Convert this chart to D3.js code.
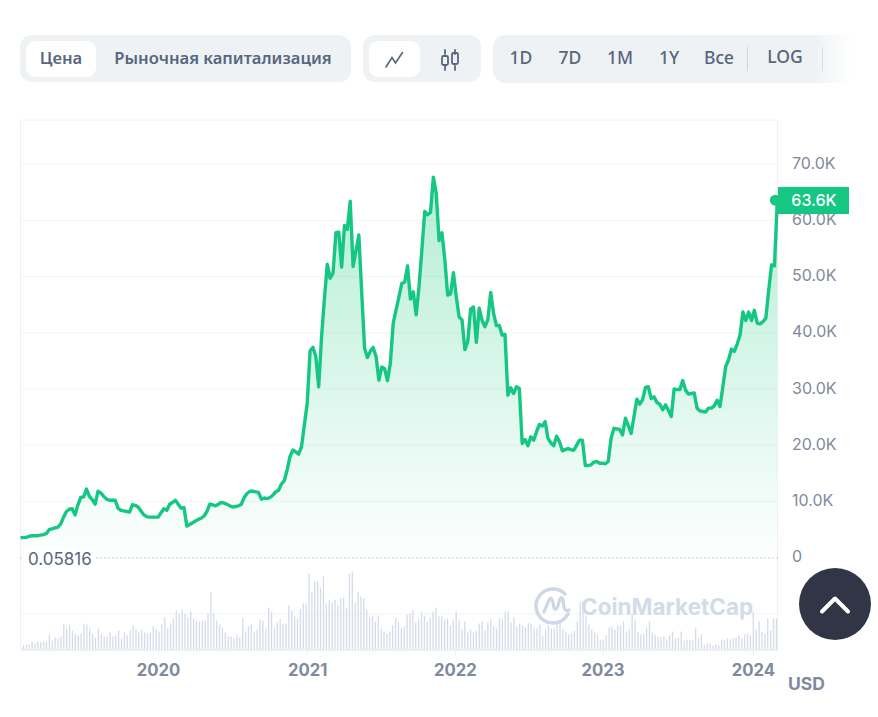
<!DOCTYPE html>
<html>
<head>
<meta charset="utf-8">
<script src="https://cdnjs.cloudflare.com/ajax/libs/d3/7.8.5/d3.min.js"></script>
<style>
html, body { margin:0; padding:0; background:#fff; overflow:hidden; }
svg { display:block; }
text { font-family:Inter, "Noto Sans", sans-serif; }
.btn { font-family:"Noto Sans", sans-serif; font-weight:600; font-size:16.6px; fill:#58667e; text-anchor:middle; }
.range { font-weight:500; font-size:17.5px; }
.axis text { font-size:16px; fill:#808a9d; }
</style>
</head>
<body>
<svg></svg>
<script>
// weekly close in thousands USD
var price = [3.5,3.6,3.6,3.8,3.9,3.9,3.9,4.0,4.1,4.3,5.0,5.1,5.3,5.4,6.0,7.2,8.2,8.6,8.7,7.6,
9.4,10.7,10.8,12.2,10.9,10.3,9.5,11.8,11.5,10.9,10.4,10.2,10.2,10.2,8.8,8.4,8.3,8.2,8.1,9.4,
9.3,9.0,8.3,7.6,7.3,7.2,7.2,7.2,7.2,8.0,8.7,8.4,9.5,9.8,10.2,9.5,8.8,8.9,5.6,5.9,
6.2,6.5,6.8,7.0,7.4,8.2,9.5,9.4,9.2,9.5,9.8,9.7,9.5,9.2,9.0,9.1,9.2,9.5,10.7,11.4,
11.8,11.8,11.7,11.6,10.4,10.6,10.5,10.7,11.1,11.7,12.0,13.1,13.7,15.6,18.0,19.15,18.8,18.4,19.75,23.6,
27.5,36.8,37.4,35.8,30.4,39.3,46.1,52.2,49.7,50.6,57.8,57.9,51.7,59.1,58.4,63.4,51.8,54.6,57.4,47.3,
37.3,35.6,36.7,37.4,35.8,31.6,33.9,33.6,31.5,34.6,41.7,44.1,46.4,48.8,49.0,51.9,46.0,47.3,43.2,48.2,
54.8,61.6,61.0,61.4,67.7,64.8,56.4,57.8,53.0,46.7,46.9,50.7,46.4,42.8,42.3,37.0,38.4,44.2,44.6,38.3,
44.4,42.2,41.1,42.3,47.2,43.5,41.3,41.3,39.6,39.7,28.9,30.2,29.2,30.4,30.1,20.3,21.0,19.9,21.5,20.9,
22.4,23.7,23.4,24.2,21.2,20.4,19.9,21.6,20.6,19.0,19.2,19.4,19.2,19.1,20.0,20.9,20.9,16.4,16.4,16.5,17.0,
17.1,16.8,16.8,16.7,17.1,21.2,23.0,22.9,22.8,21.8,24.8,23.5,22.1,25.1,28.2,27.3,28.1,30.3,30.4,28.3,
28.6,27.6,27.3,26.3,27.2,26.2,25.1,30.0,29.9,29.9,31.5,29.8,29.1,29.2,29.3,26.6,26.1,26.0,25.9,26.6,
26.6,27.0,28.0,26.9,30.4,34.0,35.2,37.1,36.7,38.0,39.6,43.7,42.2,43.7,42.2,44.0,41.7,41.6,42.0,42.6,
47.6,52.1,51.9,63.6];

// weekly volume, relative units (tallest bar about 234)
var volume = [12,15,15,24,18,24,22,24,24,45,27,36,33,39,75,63,75,57,48,42,48,78,75,63,48,36,63,45,39,39,
51,39,42,57,33,51,42,57,72,60,51,60,51,48,51,69,60,54,75,96,63,78,93,117,108,120,108,96,114,93,
87,84,87,87,108,171,108,87,75,66,51,39,39,33,45,36,93,54,69,75,54,60,90,87,63,126,114,63,81,90,
78,78,132,117,99,93,120,138,138,228,171,204,204,186,219,138,147,141,150,132,153,156,126,228,234,141,174,159,153,120,
96,102,84,102,63,54,48,54,72,96,84,66,69,105,108,117,81,90,114,102,84,96,114,126,99,99,90,93,72,90,
114,90,60,84,51,60,51,57,78,84,57,81,90,69,63,93,90,114,114,81,96,69,78,72,66,81,78,63,63,75,
42,60,72,63,63,81,84,63,54,45,48,57,84,142,142,99,75,60,51,45,30,30,42,66,69,60,72,72,84,54,
60,105,90,54,45,48,66,84,51,45,39,36,39,30,42,54,33,36,54,27,30,30,27,63,33,45,12,18,18,12,
15,12,30,27,33,30,33,36,42,33,45,48,42,114,60,84,54,48,93,57,93,93];

var firstWeek = new Date(2019, 0, 29);
var priceTicks = [0, 10, 20, 30, 40, 50, 60, 70];
var priceTickLabels = ["0", "10.0K", "20.0K", "30.0K", "40.0K", "50.0K", "60.0K", "70.0K"];
// ticks sit on the data week nearest new year
var yearTickDates = ["2020-01-01", "2021-01-01", "2021-12-29", "2022-12-26", "2023-12-30"];
var yearTickLabels = ["2020", "2021", "2022", "2023", "2024"];
var lowLabel = "0.05816";
var lastLabel = "63.6K";

var screen2 = {width:878, height:717};
var plot = {left:20.5, right:777.5, top:120, zero:557.6, volBase:649.5};
var green = "#16c784";

var weekDate = function(i) { return new Date(firstWeek.getTime() + i * 7.03 * 86400000); };

var xScale = d3.scaleTime()
    .domain([new Date(2020, 0, 1), new Date(2024, 0, 1)])
    .range([158, 753.7]);

var yScale = d3.scaleLinear()
    .domain([0, 70])
    .range([plot.zero, 164.2]);

// bars are counted separately, so spread them over the same weeks
var vIndex = d3.scaleLinear()
    .domain([0, volume.length - 1])
    .range([23.4, 776.4]);

var vScale = d3.scaleLinear()
    .domain([0, 234])
    .range([plot.volBase, 571.5]);

var svg = d3.select("svg")
    .attr("width", screen2.width)
    .attr("height", screen2.height);

var defs = svg.append("defs");

var areaGrad = defs.append("linearGradient")
    .attr("id", "areaGrad")
    .attr("gradientUnits", "userSpaceOnUse")
    .attr("x1", 0).attr("x2", 0)
    .attr("y1", yScale(67.7)).attr("y2", plot.zero);
areaGrad.append("stop").attr("offset", 0).attr("stop-color", green).attr("stop-opacity", 0.32);
areaGrad.append("stop").attr("offset", 1).attr("stop-color", green).attr("stop-opacity", 0.01);

var fadeGrad = defs.append("linearGradient").attr("id", "fadeGrad");
fadeGrad.append("stop").attr("offset", 0).attr("stop-color", "#fff").attr("stop-opacity", 0);
fadeGrad.append("stop").attr("offset", 1).attr("stop-color", "#fff").attr("stop-opacity", 0.95);

// top buttons
var drawButtons = function()
{
    var g = svg.append("g");
    g.append("rect").attr("x", 20).attr("y", 35).attr("width", 331).attr("height", 47).attr("rx", 12).attr("fill", "#eff2f5");
    g.append("rect").attr("x", 26).attr("y", 41).attr("width", 70).attr("height", 36).attr("rx", 9).attr("fill", "#fff");
    g.append("text").attr("class", "btn").attr("x", 61).attr("y", 64).text("Цена");
    g.append("text").attr("class", "btn").attr("x", 223).attr("y", 64).text("Рыночная капитализация");

    g.append("rect").attr("x", 363).attr("y", 35).attr("width", 118).attr("height", 47).attr("rx", 12).attr("fill", "#eff2f5");
    g.append("rect").attr("x", 369).attr("y", 41).attr("width", 51).attr("height", 36).attr("rx", 9).attr("fill", "#fff");
    g.append("path")
        .attr("d", "M386 67L392 57.5L395.5 63L402.5 52.5")
        .attr("fill", "none").attr("stroke", "#58667e").attr("stroke-width", 1.6).attr("stroke-linecap", "round");
    g.append("path")
        .attr("d", "M445 50V54M445 66V70M455 50V54M455 66V70")
        .attr("stroke", "#58667e").attr("stroke-width", 1.8).attr("stroke-linecap", "round");
    g.append("rect").attr("x", 442).attr("y", 56).attr("width", 6).attr("height", 9).attr("rx", 1.5)
        .attr("fill", "none").attr("stroke", "#58667e").attr("stroke-width", 1.8);
    g.append("rect").attr("x", 452).attr("y", 53).attr("width", 6).attr("height", 11).attr("rx", 1.5)
        .attr("fill", "none").attr("stroke", "#58667e").attr("stroke-width", 1.8);

    g.append("path").attr("d", "M505 35H850V83H505A12 12 0 0 1 493 71V47A12 12 0 0 1 505 35Z").attr("fill", "#eff2f5");
    var labels = [["1D", 521, 64], ["7D", 570, 64], ["1M", 620, 64], ["1Y", 669, 64], ["Все", 719, 64], ["LOG", 785, 63]];
    g.selectAll("text.range")
        .data(labels)
        .enter()
        .append("text")
        .attr("class", "btn range")
        .attr("x", function(d) { return d[1]; })
        .attr("y", function(d) { return d[2]; })
        .text(function(d) { return d[0]; });
    g.append("path").attr("d", "M747.5 47V71M822.5 47V71").attr("stroke", "#cfd6e4").attr("stroke-width", 1);
    g.append("rect").attr("x", 815).attr("y", 33).attr("width", 35).attr("height", 52).attr("fill", "url(#fadeGrad)");
}
drawButtons();

// frame and grid
var grid = svg.append("g");
grid.append("path")
    .attr("d", "M" + plot.left + " " + plot.volBase + "V" + plot.top + "H" + plot.right + "V" + plot.volBase)
    .attr("fill", "none").attr("stroke", "#eff2f5").attr("stroke-width", 1);
grid.selectAll("line.grid")
    .data(priceTicks.slice(1))
    .enter()
    .append("line")
    .attr("class", "grid")
    .attr("x1", plot.left).attr("x2", plot.right)
    .attr("y1", function(d) { return yScale(d); })
    .attr("y2", function(d) { return yScale(d); })
    .attr("stroke", "#f3f4f7");
grid.append("line")
    .attr("x1", plot.left).attr("x2", plot.right)
    .attr("y1", 614).attr("y2", 614)
    .attr("stroke", "#f3f4f7");

// volume bars
svg.append("g")
    .selectAll("rect")
    .data(volume)
    .enter()
    .append("rect")
    .attr("x", function(d, i) { return vIndex(i) - 0.65; })
    .attr("y", function(d) { return vScale(d); })
    .attr("width", 1.3)
    .attr("height", function(d) { return plot.volBase - vScale(d); })
    .attr("fill", "#d5dbe8");

grid.append("line")
    .attr("x1", plot.left).attr("x2", plot.right)
    .attr("y1", plot.volBase + 0.5).attr("y2", plot.volBase + 0.5)
    .attr("stroke", "#eff2f5").attr("stroke-width", 2);

// watermark
var drawWatermark = function()
{
    var g = svg.append("g");
    g.append("text")
        .attr("x", 581).attr("y", 615)
        .attr("font-size", 22.5).attr("font-weight", 700).attr("fill", "#d4dbe8")
        .text("CoinMarketCap");
    g.append("path")
        .attr("d", "M568 614A17 17 0 1 1 565 594")
        .attr("fill", "none").attr("stroke", "#cfd6e4").attr("stroke-width", 3.5).attr("stroke-linecap", "round");
    g.append("path")
        .attr("d", "M544 612L549 600Q551 596 552.5 601L554 608Q556 611 558 606L560 599Q562 596 563 600L564 607Q565 612 569 610")
        .attr("fill", "none").attr("stroke", "#cfd6e4").attr("stroke-width", 3.2).attr("stroke-linecap", "round");
}
drawWatermark();

// price area and line
var area = d3.area()
    .x(function(d, i) { return xScale(weekDate(i)); })
    .y0(plot.zero)
    .y1(function(d) { return yScale(d); });

var line = d3.line()
    .x(function(d, i) { return xScale(weekDate(i)); })
    .y(function(d) { return yScale(d); });

svg.append("path")
    .datum(price)
    .attr("d", area)
    .attr("fill", "url(#areaGrad)");

svg.append("path")
    .datum(price)
    .attr("d", line)
    .attr("fill", "none")
    .attr("stroke", green)
    .attr("stroke-width", 3.4)
    .attr("stroke-linejoin", "round");

// dotted low line and its label
svg.append("line")
    .attr("x1", plot.left).attr("x2", plot.right)
    .attr("y1", 558).attr("y2", 558)
    .attr("stroke", "#9aa3b4").attr("stroke-width", 1).attr("stroke-dasharray", "1 3");
svg.append("rect").attr("x", 24).attr("y", 549).attr("width", 72).attr("height", 20).attr("fill", "#fff");
svg.append("text")
    .attr("x", 28).attr("y", 565)
    .attr("font-size", 17).attr("fill", "#58667e")
    .text(lowLabel);

// axes
var yAxis = d3.axisRight(yScale)
    .tickValues(priceTicks)
    .tickSize(0)
    .tickPadding(0)
    .tickFormat(function(d, i) { return priceTickLabels[i]; });

var yG = svg.append("g")
    .attr("class", "axis")
    .attr("transform", "translate(792, 0)")
    .call(yAxis);
yG.select(".domain").remove();
yG.selectAll("text").attr("dy", "0.26em");

var xAxis = d3.axisBottom(xScale)
    .tickValues(yearTickDates.map(function(d) { return d3.timeParse("%Y-%m-%d")(d); }))
    .tickSize(5)
    .tickPadding(9)
    .tickFormat(function(d, i) { return yearTickLabels[i]; });

var xG = svg.append("g")
    .attr("class", "axis")
    .attr("transform", "translate(0, " + (plot.volBase + 1) + ")")
    .call(xAxis);
xG.select(".domain").remove();
xG.selectAll("line").attr("stroke", "#eff2f5");
xG.selectAll("text").attr("font-weight", 700).style("font-size", "16.7px").style("fill", "#808a9d");

svg.append("text")
    .attr("x", 788).attr("y", 689.5)
    .attr("font-size", 17.5).attr("font-weight", 700).attr("fill", "#808a9d")
    .text("USD");

// current price tag
svg.append("rect").attr("x", 778).attr("y", 187).attr("width", 71).attr("height", 27).attr("fill", green);
svg.append("text")
    .attr("x", 814).attr("y", 206)
    .attr("text-anchor", "middle")
    .attr("font-size", 16).attr("font-weight", 500).attr("fill", "#fff")
    .text(lastLabel);
svg.append("circle")
    .attr("cx", xScale(weekDate(price.length - 1)) - 2)
    .attr("cy", yScale(price[price.length - 1]))
    .attr("r", 5.5)
    .attr("fill", green);

// scroll to top button
svg.append("circle").attr("cx", 835).attr("cy", 604).attr("r", 36).attr("fill", "#323546");
svg.append("path")
    .attr("d", "M822 611.5L835 598.5L848 611.5")
    .attr("fill", "none").attr("stroke", "#fff").attr("stroke-width", 4).attr("stroke-linecap", "round").attr("stroke-linejoin", "round");
</script>
</body>
</html>
